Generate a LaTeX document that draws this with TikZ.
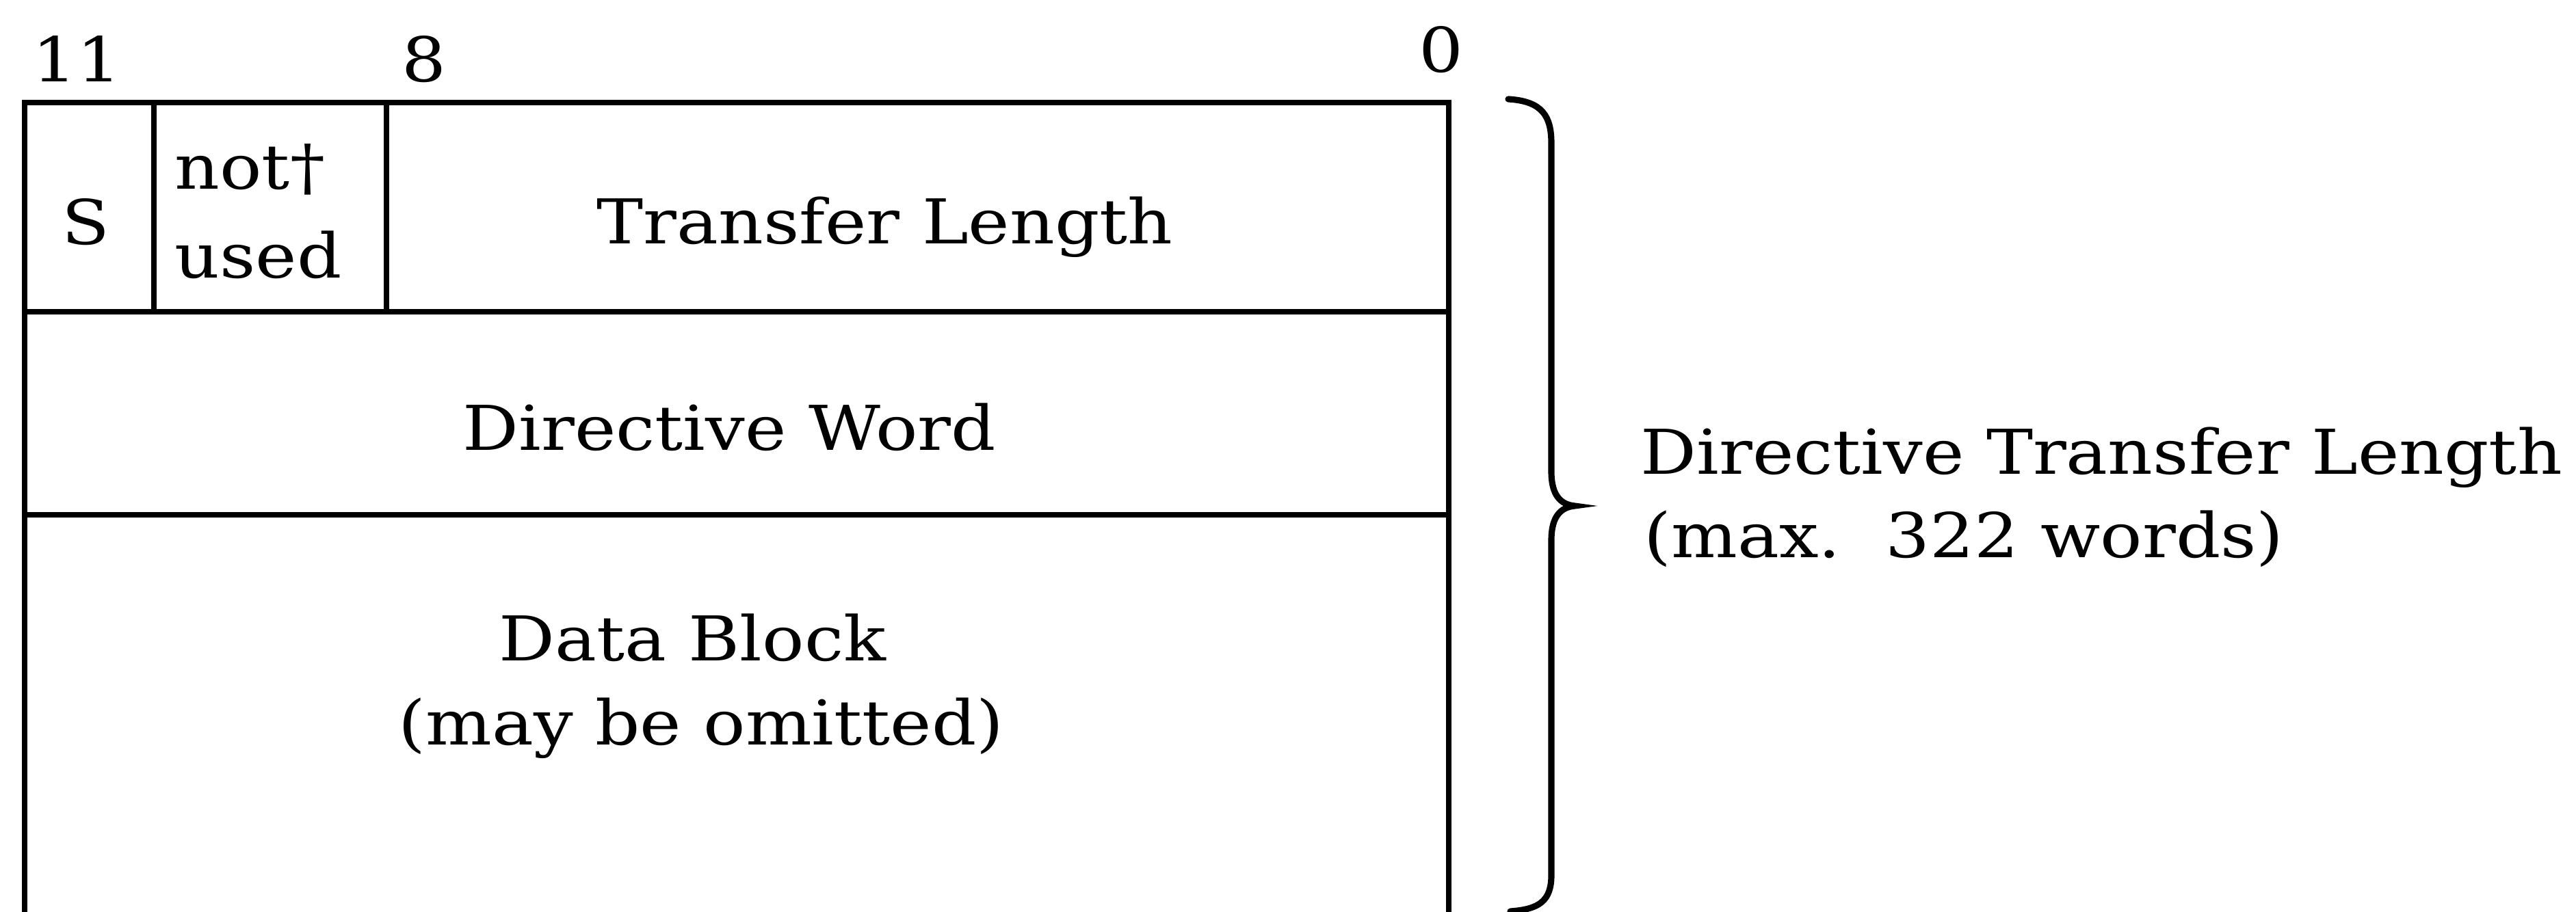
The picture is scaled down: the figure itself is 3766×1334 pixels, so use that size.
\documentclass[tikz,border=0pt]{standalone}
\usepackage{fontspec}
\setmainfont{DejaVu Serif}[FakeStretch=1.13]
\begin{document}
\begin{tikzpicture}[x=0.01cm,y=-0.01cm,
    lbl/.style={inner sep=0pt,anchor=base west,font=\fontsize{25.7}{36}\selectfont},
    frame/.style={line width=2.2pt},
    bracket/.style={line width=2.6pt,line cap=round}]
  \useasboundingbox (0,0) rectangle (3766,1334);
  % word frame, open at the bottom
  \draw[frame] (36,1345) -- (36,150) -- (2118,150) -- (2118,1345);
  \draw[frame] (36,456) -- (2118,456);
  \draw[frame] (36,753) -- (2118,753);
  \draw[frame] (225,150) -- (225,456);
  \draw[frame] (565,150) -- (565,456);
  % bit numbers
  \node[lbl] (bit11) at (47,120) {11};
  \node[lbl] (bit8) at (587,120) {8};
  \node[lbl] (bit0) at (2074,106) {0};
  % first word
  \node[lbl] (sign) at (90,358) {S};
  \node[lbl] (notused) at (255,277) {not†};
  \node[lbl] (used) at (255,407) {used};
  \node[lbl] (tlen) at (872,357) {Transfer Length};
  % second word and data
  \node[lbl] (dword) at (676,659) {Directive Word};
  \node[lbl] (dblock) at (729,966) {Data Block};
  \node[lbl] (domit) at (582,1089) {(may be omitted)};
  % brace and its text
  \coordinate (brtop) at (2205,145);
  \coordinate (brtip) at (2302,740);
  \coordinate (brbot) at (2208,1333);
  \draw[bracket] (brtop) .. controls (2255,148) and (2268,170) .. (2268,210)
    -- (2268,690) .. controls (2268,725) and (2282,738) .. (brtip)
    .. controls (2282,742) and (2268,755) .. (2268,790)
    -- (2268,1280) .. controls (2268,1318) and (2250,1330) .. (brbot);
  \node[lbl] (dtl) at (2398,694) {Directive Transfer Length};
  \node[lbl] (dmax) at (2403,815) {(max.\ \ 322 words)};
\end{tikzpicture}
\end{document}
